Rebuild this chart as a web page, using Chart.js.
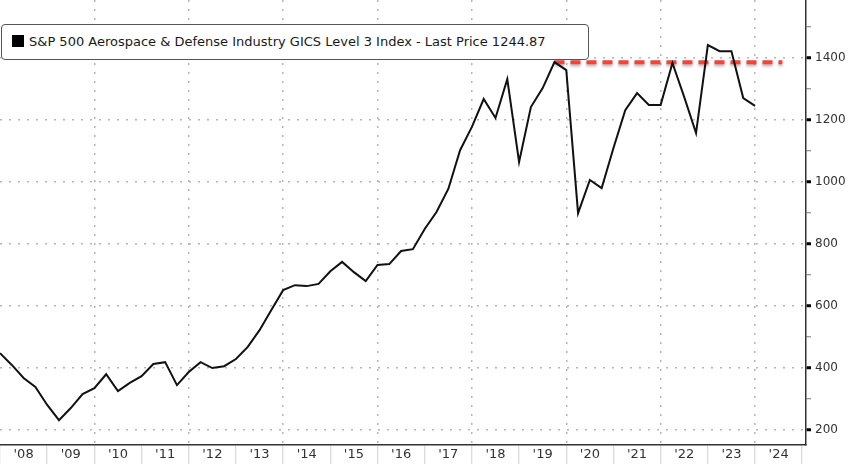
<!DOCTYPE html>
<html>
<head>
<meta charset="utf-8">
<script src="https://cdn.jsdelivr.net/npm/chart.js@4.4.1/dist/chart.umd.min.js"></script>
<style>
    body { margin: 0; background: #fff; }
    #wrap { position: relative; width: 848px; height: 464px; }
    #legendBox {
        position: absolute; left: 1px; top: 24px; width: 586px; height: 34px;
        border: 1.5px solid #555; border-radius: 4px; background: #fff;
        font-family: "DejaVu Sans", sans-serif; font-size: 13px; color: #1a1a1a;
        line-height: 34px; white-space: nowrap;
    }
    #legendBox .sq { display: inline-block; width: 12px; height: 12px; background: #000; margin: 0 5px 0 10px; vertical-align: -1px; }
</style>
</head>
<body>
<div id="wrap">
    <canvas id="defChart" width="848" height="464"></canvas>
    <div id="legendBox"><span class="sq"></span><span id="legendText"></span></div>
</div>
<script>
    // Quarterly closes, starting Q1 2008
    const startYear = 2008;
    const prices = [448, 410, 368, 339, 281, 232, 271, 316, 335, 380, 326, 352, 374, 413, 419, 345,
        387, 419, 400, 406, 429, 468, 522, 587, 651, 667, 664, 671, 712, 742, 709, 680,
        732, 735, 777, 783, 848, 903, 977, 1102, 1177, 1267, 1206, 1331, 1064, 1241, 1302, 1386,
        1360, 899, 1006, 980, 1109, 1231, 1286, 1248, 1248, 1383, 1273, 1157, 1441, 1421, 1421, 1270, 1245];

    // previous high marker (red dashed)
    const highLineX = [2019.75, 2024.58];
    const highLineY = [1385, 1385];

    const years = [2008, 2009, 2010, 2011, 2012, 2013, 2014, 2015, 2016, 2017, 2018, 2019, 2020, 2021, 2022, 2023, 2024, 2025];
    const yTicks = [200, 300, 400, 500, 600, 700, 800, 900, 1000, 1100, 1200, 1300, 1400, 1500];
    const yLabelTicks = [200, 400, 600, 800, 1000, 1200, 1400];

    const legendLabel = 'S&P 500 Aerospace & Defense Industry GICS Level 3 Index - Last Price 1244.87';
    document.getElementById('legendText').textContent = legendLabel;

    const linePoints = prices.map((p, i) => ({ x: startYear + i / 4, y: p }));
    const highPoints = highLineX.map((x, i) => ({ x: x, y: highLineY[i] }));

    // x ticks: year boundaries + mid-year label positions
    const xTickValues = [];
    years.forEach(y => {
        xTickValues.push(y);
        if (y < 2025) xTickValues.push(y + 0.5);
    });

    const shadowPlugin = {
        id: 'dashShadow',
        beforeDatasetDraw(chart, args) {
            if (args.index === 1) {
                const c = chart.ctx;
                c.save();
                c.shadowColor = 'rgba(0,0,0,0.3)';
                c.shadowBlur = 3;
                c.shadowOffsetY = 2;
            }
        },
        afterDatasetDraw(chart, args) {
            if (args.index === 1) chart.ctx.restore();
        }
    };

    // drop the label overhang padding so the plot runs edge to edge
    function noPad(scale) {
        scale.paddingTop = 0;
        scale.paddingBottom = 0;
        scale.paddingLeft = 0;
        scale.paddingRight = 0;
    }

    const ctx = document.getElementById('defChart').getContext('2d');
    const defChart = new Chart(ctx, {
        type: 'line',
        data: {
            datasets: [
                {
                    label: 'Index',
                    data: linePoints,
                    borderColor: '#111',
                    borderWidth: 2,
                    pointRadius: 0,
                    tension: 0,
                    order: 0
                },
                {
                    label: 'High',
                    data: highPoints,
                    borderColor: '#f0453b',
                    borderWidth: 4,
                    borderDash: [10, 6],
                    pointRadius: 0,
                    order: 1
                }
            ]
        },
        options: {
            responsive: false,
            animation: false,
            layout: { padding: 0 },
            plugins: {
                legend: { display: false },
                tooltip: { enabled: false }
            },
            scales: {
                x: {
                    type: 'linear',
                    min: 2008,
                    max: 2025.08,
                    afterBuildTicks: (scale) => {
                        scale.ticks = xTickValues.map(v => ({ value: v }));
                    },
                    afterFit: (scale) => { scale.height = 19; noPad(scale); },
                    ticks: {
                        autoSkip: false,
                        maxRotation: 0,
                        padding: -17,
                        color: '#333',
                        font: { family: 'DejaVu Sans', size: 13 },
                        callback: (v) => Number.isInteger(v) ? '' : "'" + String(Math.floor(v)).slice(2)
                    },
                    grid: {
                        color: (c) => {
                            const v = c.tick ? c.tick.value : 0;
                            return (Number.isInteger(v) && v % 2 === 0 && v > 2008 && v < 2025) ? '#b5b5b5' : 'rgba(0,0,0,0)';
                        },
                        lineWidth: 1.5,
                        tickLength: 19,
                        tickColor: (c) => (c.tick && Number.isInteger(c.tick.value)) ? '#cfcfcf' : 'rgba(0,0,0,0)',
                        tickWidth: 1,
                        tickBorderDash: []
                    },
                    border: { display: true, color: '#333', width: 1.5, dash: [2, 7] }
                },
                y: {
                    position: 'right',
                    min: 152,
                    max: 1586,
                    afterBuildTicks: (scale) => {
                        scale.ticks = yTicks.map(v => ({ value: v }));
                    },
                    afterFit: (scale) => { scale.width = 42; noPad(scale); },
                    ticks: {
                        padding: 4,
                        color: '#333',
                        font: { family: 'DejaVu Sans', size: 12 },
                        callback: (v) => yLabelTicks.includes(v) ? String(v) : ''
                    },
                    grid: {
                        color: (c) => (c.tick && yLabelTicks.includes(c.tick.value)) ? '#b5b5b5' : 'rgba(0,0,0,0)',
                        lineWidth: 1.5,
                        tickLength: 5,
                        tickColor: (c) => (c.tick && yLabelTicks.includes(c.tick.value)) ? '#000' : '#777',
                        tickWidth: (c) => (c.tick && yLabelTicks.includes(c.tick.value)) ? 3 : 1,
                        tickBorderDash: []
                    },
                    border: { display: true, color: '#333', width: 1.5, dash: [2, 7] }
                }
            }
        },
        plugins: [shadowPlugin]
    });
</script>
</body>
</html>
